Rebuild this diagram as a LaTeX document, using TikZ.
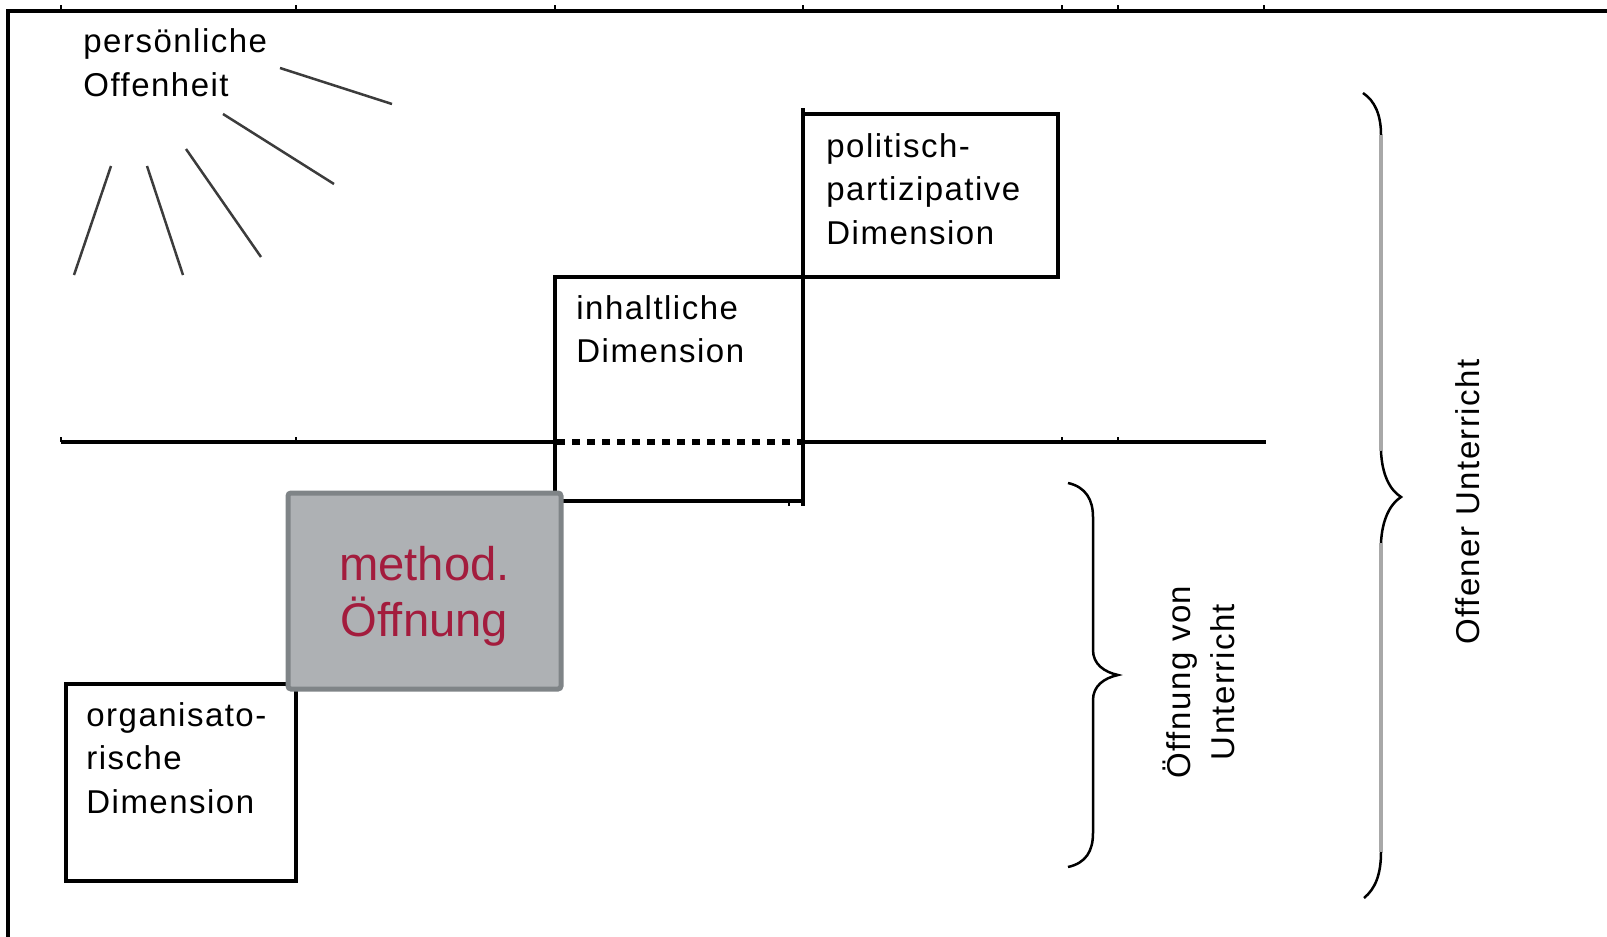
\documentclass[tikz,border=0pt]{standalone}
\usepackage{fontspec}
\setmainfont{Liberation Sans}
\newfontfamily\labelfont[LetterSpace=4.5]{Liberation Sans}

\definecolor{rayc}{HTML}{3C3C3C}
\definecolor{methfill}{HTML}{AEB1B4}
\definecolor{methedge}{HTML}{7F8487}
\definecolor{methtext}{HTML}{A31C3D}
\definecolor{bracegray}{HTML}{A8A8A8}

\begin{document}
\begin{tikzpicture}[x=0.5pt,y=-0.5pt,
  frame/.style={line width=2pt},
  tickmark/.style={line width=1pt},
  dimbox/.style={draw, line width=2pt, inner sep=0pt},
  lbl/.style={inner sep=0pt, anchor=base west,
    font=\labelfont\fontsize{16.5pt}{21.75pt}\selectfont},
  rotlbl/.style={inner sep=0pt, anchor=base, rotate=90,
    font=\labelfont\fontsize{16.5pt}{22pt}\selectfont},
  ray/.style={draw=rayc, line width=1.25pt},
  brace/.style={draw=black, line width=1.25pt},
  bracefaint/.style={draw=bracegray, line width=1.6pt}]

\useasboundingbox (0,0) rectangle (1607,937);

% outer frame (top and left) with tick marks
\draw[frame] (8,937) -- (8,11) -- (1607,11);
\foreach \tx in {61,296,555,803,1062,1118,1264}
  \draw[tickmark] (\tx,5) -- (\tx,11);

% dimension boxes
\node[dimbox, minimum width=127.5pt, minimum height=81.5pt] (pol) at (930.5,195.5) {};
\node[dimbox, minimum width=124pt, minimum height=112pt] (inh) at (679,389) {};
\node[dimbox, minimum width=115pt, minimum height=98.5pt] (org) at (181,782.5) {};
\coordinate (vtop) at (803,108);
\coordinate (vbot) at (803,506);
\draw[frame] (vtop) -- (vbot);
\draw[tickmark] (789,501) -- (789,506);

% horizontal axis, dotted inside the content box
\draw[frame] (61,442) -- (555,442);
\draw[frame] (803,442) -- (1266,442);
\draw[line width=3pt, dash pattern=on 3.75pt off 3.75pt] (557,442) -- (803,442);
\foreach \tx in {61,296,1062,1118}
  \draw[tickmark] (\tx,437) -- (\tx,442);

% box labels
\node[lbl] (poltxt) at (826,157) {\begin{tabular}[t]{@{}l@{}}politisch-\\partizipative\\Dimension\end{tabular}};
\node[lbl] (inhtxt) at (576,319) {\begin{tabular}[t]{@{}l@{}}inhaltliche\\Dimension\end{tabular}};
\node[lbl] (orgtxt) at (86,726) {\begin{tabular}[t]{@{}l@{}}organisato-\\rische\\Dimension\end{tabular}};

% personal openness with rays
\node[lbl] (pers) at (83,53) {\begin{tabular}[t]{@{}l@{}}persönliche\\Offenheit\end{tabular}};
\draw[ray] (280,68) -- (392,104);
\draw[ray] (223,114) -- (334,184);
\draw[ray] (186,149) -- (261,257);
\draw[ray] (147,166) -- (183,275);
\draw[ray] (111,166) -- (74,275);

% methodical opening, on top of neighbouring boxes
\node[draw=methedge, fill=methfill, line width=2.5pt, rounded corners=1.5pt,
      minimum width=136.5pt, minimum height=98pt, inner sep=0pt] (meth) at (424.5,591) {};
\node[inner sep=0pt, anchor=base, text=methtext,
      font=\fontsize{23.6pt}{28pt}\selectfont] (methtxt) at (424.5,580)
  {\begin{tabular}[t]{@{}c@{}}method.\\Öffnung\end{tabular}};

% small brace
\draw[brace] (1068,483) .. controls (1086,487) and (1093,500) .. (1093,517)
  -- (1093,650) .. controls (1093,664) and (1104,672) .. (1118,675)
  .. controls (1104,678) and (1093,686) .. (1093,700)
  -- (1093,833) .. controls (1093,851) and (1086,863) .. (1068,867);
\node[rotlbl] (oevu) at (1190,682) {\begin{tabular}[t]{@{}c@{}}Öffnung von\\Unterricht\end{tabular}};

% large brace
\draw[brace] (1363,93) .. controls (1375,101) and (1381,115) .. (1381,135);
\draw[bracefaint] (1381,135) -- (1381,451);
\draw[brace] (1381,451) .. controls (1382,475) and (1390,490) .. (1401,497)
  .. controls (1390,504) and (1382,520) .. (1381,543);
\draw[bracefaint] (1381,543) -- (1381,852);
\draw[brace] (1381,852) .. controls (1381,875) and (1375,889) .. (1364,898);
\node[rotlbl] (ou) at (1479,502) {Offener Unterricht};

\end{tikzpicture}
\end{document}
